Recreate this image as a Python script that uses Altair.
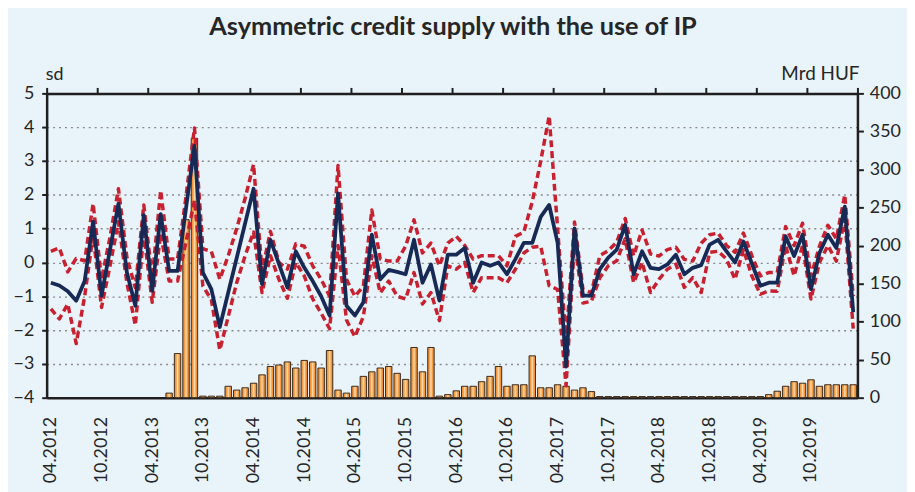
import altair as alt
import pandas as pd

# ---------------- data ----------------
months = [p.strftime("%m.%Y") for p in pd.period_range("2012-04", periods=96, freq="M")]
tick_labels = months[::6]

asym = [
    -0.60, -0.68, -0.85, -1.13, -0.55, 1.21, -0.98, 0.38, 1.74, -0.30,
    -1.28, 1.40, -0.84, 1.43, -0.25, -0.25, 1.60, 3.45, -0.30, -0.79,
    -1.91, -0.89, 0.13, 1.16, 2.18, -0.64, 0.67, -0.04, -0.74, 0.33,
    -0.15, -0.55, -1.00, -1.57, 2.04, -1.28, -1.57, -1.18, 0.82, -0.50,
    -0.22, -0.28, -0.35, 0.67, -0.60, -0.06, -1.13, 0.23, 0.23, 0.43,
    -0.60, 0.00, -0.10, 0.00, -0.35, 0.10, 0.58, 0.58, 1.35, 1.70,
    0.58, -3.08, 1.01, -0.98, -0.98, -0.20, 0.14, 0.38, 1.11, -0.35,
    0.33, -0.16, -0.20, -0.06, 0.23, -0.35, -0.16, -0.08, 0.53, 0.67,
    0.33, 0.00, 0.62, -0.03, -0.69, -0.60, -0.60, 0.77, 0.19, 0.82,
    -0.79, 0.28, 0.82, 0.43, 1.65, -1.47,
]

upper = [
    0.33, 0.43, -0.28, 0.12, 0.05, 1.74, -0.50, 0.75, 2.18, 0.15,
    -0.75, 1.70, -0.45, 2.13, 0.10, 0.10, 1.95, 3.98, 0.40, 0.33,
    -0.50, 0.20, 1.00, 1.90, 2.90, -0.25, 0.92, 0.00, -0.20, 0.55,
    0.48, -0.10, -0.50, -1.00, 2.87, -0.50, -1.00, -0.70, 1.55, 0.10,
    0.04, 0.04, 0.48, 1.26, 0.28, 0.57, -0.10, 0.57, 0.77, 0.50,
    0.10, 0.20, 0.20, 0.20, -0.10, 0.77, 0.90, 1.80, 3.00, 4.33,
    1.00, -2.30, 1.20, -0.80, -0.90, 0.20, 0.35, 0.60, 1.30, 0.20,
    0.96, 0.25, 0.19, 0.38, 0.45, 0.09, 0.04, 0.57, 0.82, 0.87,
    0.50, 0.30, 0.87, 0.20, -0.40, -0.30, -0.30, 1.06, 0.50, 1.16,
    -0.40, 0.48, 1.10, 0.70, 2.00, -1.00,
]

lower = [
    -1.37, -1.67, -1.23, -2.40, -1.00, 0.80, -1.33, -0.10, 1.20, -0.60,
    -1.86, 0.85, -1.18, 0.85, -0.55, -0.55, 0.60, 1.84, -0.70, -1.10,
    -2.59, -1.60, -0.60, 0.20, 0.90, -0.89, 0.20, -0.50, -1.06, 0.00,
    -0.40, -1.08, -1.50, -1.96, 0.50, -1.70, -2.20, -1.60, 0.20, -0.90,
    -0.55, -1.00, -1.08, -0.30, -1.23, -0.89, -1.72, -0.10, -0.20, 0.00,
    -0.89, -0.45, -0.45, -0.45, -0.60, -0.20, 0.28, 0.45, 0.48, -0.69,
    -0.80, -3.65, 0.60, -1.20, -1.15, -0.45, -0.10, 0.05, 0.70, -0.60,
    0.00, -0.89, -0.50, -0.20, -0.05, -0.74, -0.45, -0.89, 0.30, 0.33,
    0.10, -0.50, 0.38, -0.40, -0.94, -0.84, -0.85, 0.50, -0.40, 0.50,
    -1.08, 0.00, 0.50, 0.04, 1.30, -1.96,
]

ip_use = (
    [None] * 14
    + [6, 58, 234, 341, 2, 2, 2, 15, 10, 13,
       19, 30, 41, 43, 47, 39, 49, 47, 39, 62,
       10, 6, 15, 28, 34, 39, 41, 32, 24, 66,
       34, 66, 2, 4, 9, 15, 15, 21, 28, 41,
       15, 17, 17, 55, 13, 13, 17, 15, 10, 13,
       8]
    + [1.5] * 20
    + [4, 8.5, 15, 21, 19, 23.5, 15, 17, 17, 17, 17]
)

df = pd.DataFrame({
    "i": list(range(96)),
    "month": months,
    "asym": asym,
    "upper": upper,
    "lower": lower,
    "ip": ip_use,
})
df["xc"] = df["i"] + 0.5
df["xb0"] = df["i"] + 0.12
df["xb1"] = df["i"] + 0.88

# ---------------- style ----------------
W, H = 818, 307
N = 96
FONT = "Lato"
TXT = "#262626"
BG = "#E9F3FA"
NAVY = "#172A55"
RED = "#C8202E"
AX = "#1f1f1f"

xs = alt.Scale(domain=[0, N], nice=False, zero=False)
ysl = alt.Scale(domain=[-4, 5], nice=False, zero=False)
ysr = alt.Scale(domain=[0, 400], nice=False, zero=True)

label_expr = "[" + ",".join("'%s'" % s for s in tick_labels) + "][floor(datum.value / 6)] || ''"

# axis carrying the month labels (at category centres, no ticks)
x_label_axis = alt.Axis(
    values=[k + 0.5 for k in range(0, N, 6)], labelExpr=label_expr, labelAngle=-90,
    labelFlush=False, labelOverlap=False, labelBound=False,
    grid=False, ticks=False, domainColor=AX, domainWidth=2.5,
    labelFont=FONT, labelFontSize=18, labelColor=TXT, labelPadding=19, title=None,
)
# axis carrying the tick marks (at category boundaries, no labels)
x_tick_axis = alt.Axis(
    values=list(range(0, N + 1, 6)), labels=False, grid=False, tickSize=6,
    tickWidth=2, tickColor=AX, domainColor=AX, domainWidth=2.5, title=None,
)
left_axis = alt.Axis(
    orient="left", values=list(range(-4, 6)), grid=True, gridDash=[2, 4],
    gridColor="#8a8a8a", gridWidth=1.4, tickSize=5, tickWidth=2, tickColor=AX,
    domainColor=AX, domainWidth=2.5, labelFont=FONT, labelFontSize=18,
    labelColor=TXT, labelPadding=8, title=None,
)
right_axis = alt.Axis(
    orient="right", values=list(range(0, 401, 50)), grid=False, tickSize=6,
    tickWidth=2, tickColor=AX, domainColor=AX, domainWidth=2.5, labelFont=FONT,
    labelFontSize=18, labelColor=TXT, labelPadding=6, title=None,
)

grad = alt.Gradient(
    gradient="linear",
    stops=[
        alt.GradientStop(color="#EE8420", offset=0),
        alt.GradientStop(color="#F6A24E", offset=0.3),
        alt.GradientStop(color="#FFDDB0", offset=0.5),
        alt.GradientStop(color="#F6A24E", offset=0.7),
        alt.GradientStop(color="#EE8420", offset=1),
    ],
    x1=0, x2=1, y1=0, y2=0,
)

bars = alt.Chart(df).mark_bar(fill=grad, stroke="#3a2c1e", strokeWidth=1).encode(
    x=alt.X("xb0:Q", scale=xs, axis=x_label_axis),
    x2="xb1:Q",
    y=alt.Y("ip:Q", scale=ysr, axis=right_axis),
    y2=alt.datum(0),
)

base = alt.Chart(df).encode(x=alt.X("xc:Q", scale=xs, axis=x_tick_axis))
up_l = base.mark_line(color=RED, strokeWidth=3.5, strokeDash=[7, 4], strokeJoin="round").encode(
    y=alt.Y("upper:Q", scale=ysl, axis=left_axis))
lo_l = base.mark_line(color=RED, strokeWidth=3.5, strokeDash=[7, 4], strokeJoin="round").encode(
    y=alt.Y("lower:Q", scale=ysl, axis=left_axis))
main_l = base.mark_line(color=NAVY, strokeWidth=3.8, strokeJoin="round").encode(
    y=alt.Y("asym:Q", scale=ysl, axis=left_axis))
lines = alt.layer(up_l, lo_l, main_l)

title_t = alt.Chart(pd.DataFrame({"t": ["Asymmetric credit supply with the use of IP"]})).mark_text(
    align="center", baseline="middle", font=FONT, fontSize=25.5, fontWeight="bold", color=TXT
).encode(x=alt.value(410), y=alt.value(-67), text="t:N")
sd_t = alt.Chart(pd.DataFrame({"t": ["sd"]})).mark_text(
    align="left", baseline="middle", font=FONT, fontSize=18, color=TXT
).encode(x=alt.value(-1), y=alt.value(-19), text="t:N")
huf_t = alt.Chart(pd.DataFrame({"t": ["Mrd HUF"]})).mark_text(
    align="right", baseline="middle", font=FONT, fontSize=19, color=TXT
).encode(x=alt.value(820), y=alt.value(-20), text="t:N")

chart = (
    alt.layer(bars, lines, title_t, sd_t, huf_t)
    .resolve_scale(y="independent")
    .resolve_axis(x="independent")
    .properties(
        width=W, height=H,
        padding={"left": 39, "top": 84, "right": 50, "bottom": 93},
        autosize=alt.AutoSizeParams(type="none"),
        background=BG,
    )
    .configure_view(stroke=None)
)

chart.save("out.html", embed_options={"renderer": "svg", "actions": False})
